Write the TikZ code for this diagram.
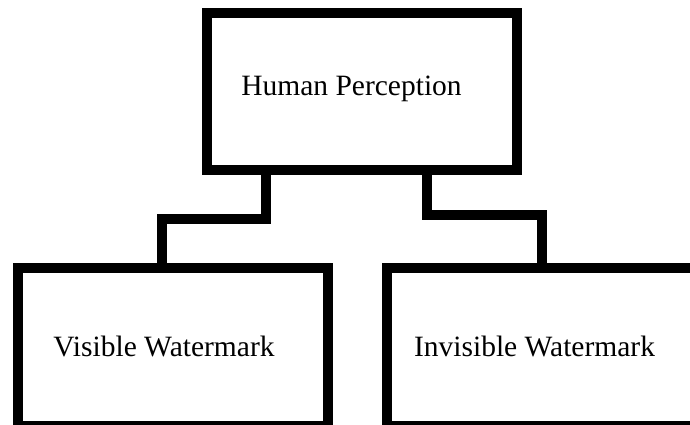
\documentclass[tikz,border=0pt]{standalone}
\usepackage{fontspec}
\setmainfont{Liberation Serif}
\begin{document}
\begin{tikzpicture}[x=1pt, y=-1pt, line width=10pt,
    box/.style={draw, rectangle, inner sep=0pt, minimum width=310pt, minimum height=158pt},
    lbl/.style={anchor=base, inner sep=0pt, font=\fontsize{29.5}{34}\selectfont}]
  \useasboundingbox (0,0) rectangle (690,425);
  % boxes
  \node[box, minimum height=157pt] (top)   at (361.9,91.5) {};
  \node[box] (left)  at (173,347.2) {};
  \node[box] (right) at (542,347.2) {};
  % captions
  \node[lbl] (toptext)   at (351.5,95.7) {Human Perception};
  \node[lbl] (lefttext)  at (164,356)    {Visible Watermark};
  \node[lbl] (righttext) at (534.5,356.7) {Invisible Watermark};
  % stepped connectors
  \draw ([xshift=-96pt]top.south) -- ++(0,43.5) -| ([xshift=-11pt]left.north);
  \draw ([xshift=65pt]top.south)  -- ++(0,40.3) -| (right.north);
\end{tikzpicture}
\end{document}
